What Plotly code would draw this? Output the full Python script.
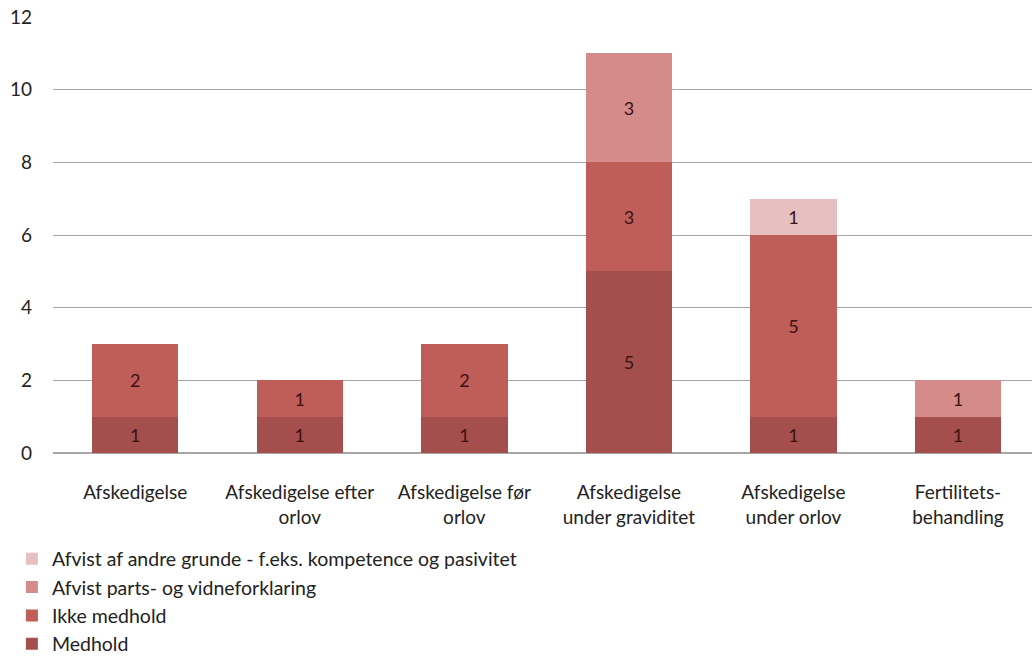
import plotly.graph_objects as go

categories = ["Afskedigelse", "Afskedigelse efter<br>orlov", "Afskedigelse før<br>orlov",
              "Afskedigelse<br>under graviditet", "Afskedigelse<br>under orlov", "Fertilitets-<br>behandling"]
medhold = [1, 1, 1, 5, 1, 1]
ikke_medhold = [2, 1, 2, 3, 5, 0]
afvist_parts = [0, 0, 0, 3, 0, 1]
afvist_andre = [0, 0, 0, 0, 1, 0]

series = [
    ("Medhold", medhold, "#A44F4D"),
    ("Ikke medhold", ikke_medhold, "#BF5D58"),
    ("Afvist parts- og vidneforklaring", afvist_parts, "#D48B89"),
    ("Afvist af andre grunde - f.eks. kompetence og pasivitet", afvist_andre, "#E6BFC0"),
]

FONT = "Lato, Open Sans, sans-serif"
fig = go.Figure()
for name, vals, color in series:
    fig.add_trace(go.Bar(
        x=list(range(len(categories))), y=vals, name=name,
        marker=dict(color=color, line=dict(width=0)),
        text=[str(v) if v else "" for v in vals],
        textposition="inside", insidetextanchor="middle",
        textfont=dict(family=FONT, size=18, color="#3a1212"),
        textangle=0,
    ))

fig.update_layout(
    barmode="stack", bargap=0.475,
    width=1032, height=658,
    margin=dict(l=53, r=0, t=17, b=205, autoexpand=False),
    plot_bgcolor="white", paper_bgcolor="white",
    font=dict(family=FONT, size=19, color="#222"),
    xaxis=dict(tickmode="array", tickvals=list(range(len(categories))), ticktext=categories,
               range=[-0.5, 5.45], showgrid=False, zeroline=False, showline=False,
               ticks="", tickfont=dict(size=19), ticklabelstandoff=26, automargin=False),
    yaxis=dict(range=[0, 12], dtick=2, showgrid=True, gridcolor="#a6a6a6", gridwidth=1,
               zeroline=True, zerolinecolor="#a6a6a6", showline=False, ticks="",
               tickfont=dict(size=19), ticklabelstandoff=20, automargin=False),
    legend=dict(orientation="v", traceorder="reversed", x=-0.042, xref="paper",
                y=0.18, yref="container", yanchor="top", font=dict(size=19.5), itemwidth=30,
                bgcolor="rgba(0,0,0,0)"),
)
fig.write_html("out.html")
